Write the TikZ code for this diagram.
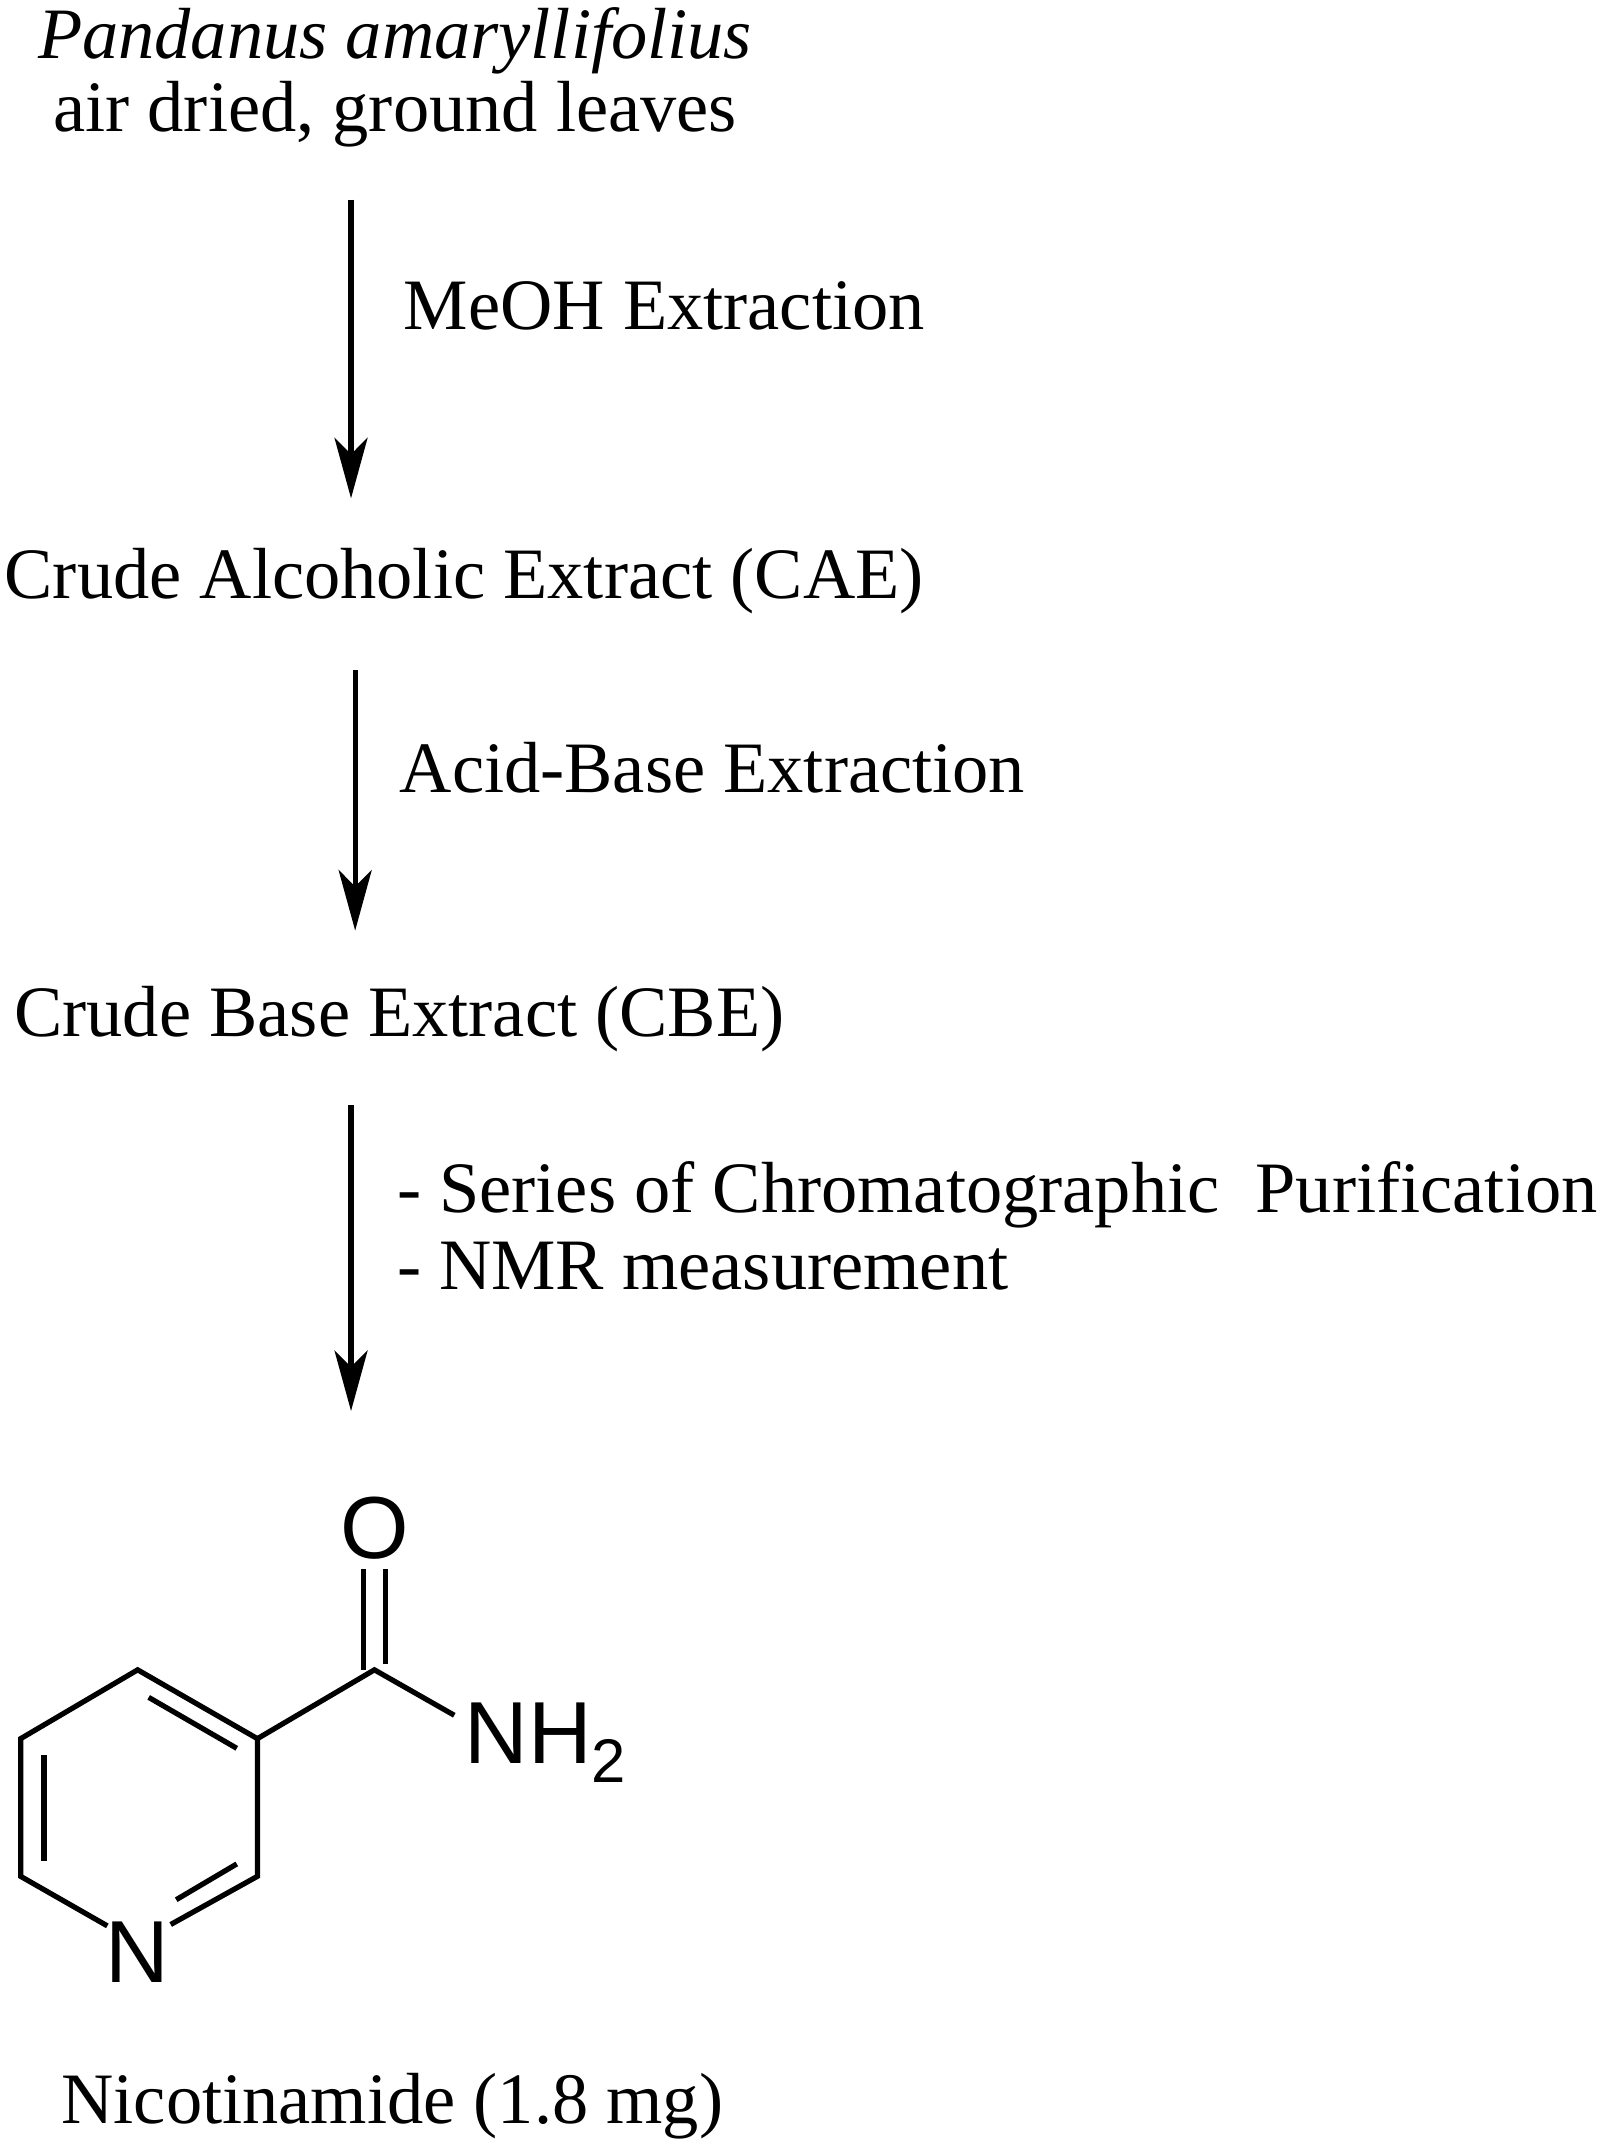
\documentclass[tikz,border=0pt]{standalone}
\usepackage{fontspec}
\setmainfont{Liberation Serif}
\newfontfamily\chemfont{Liberation Sans}
\usetikzlibrary{arrows.meta}
\tikzset{
  flow/.style={line width=1.9pt,-{Stealth[length=22pt,width=12pt,inset=6pt]}},
  txt/.style={font=\fontsize{26.3}{30}\selectfont,inner sep=0pt},
  bond/.style={line width=1.9pt},
  atom/.style={font=\chemfont\fontsize{32}{36}\selectfont,inner sep=1pt}
}
\begin{document}
\begin{tikzpicture}[x=0.5pt,y=-0.5pt]
\useasboundingbox (0,0) rectangle (1173,1564);
\node[txt] (t1) at (287,30) {\itshape Pandanus amaryllifolius};
\node[txt] (t2) at (287,83) {air dried, ground leaves};
\coordinate (a1s) at (255,145); \coordinate (a1e) at (255,362);
\draw[flow] (a1s) -- (a1e);
\node[txt,anchor=west] (l1) at (293,222) {MeOH Extraction};
\node[txt,anchor=west] (cae) at (3,422) {Crude Alcoholic Extract (CAE)};
\coordinate (a2s) at (258,487); \coordinate (a2e) at (258,676);
\draw[flow] (a2s) -- (a2e);
\node[txt,anchor=west] (l2) at (290,558) {Acid-Base Extraction};
\node[txt,anchor=west] (cbe) at (10,740) {Crude Base Extract (CBE)};
\coordinate (a3s) at (255,803); \coordinate (a3e) at (255,1025);
\draw[flow] (a3s) -- (a3e);
\node[txt,anchor=west] (l3) at (288,868) {- Series of Chromatographic\ \ Purification};
\node[txt,anchor=west] (l4) at (288,920) {- NMR measurement};
% molecule
\coordinate (r1) at (100,1213);
\coordinate (r2) at (187,1263);
\coordinate (r3) at (187,1363);
\coordinate (r5) at (15,1363);
\coordinate (r6) at (15,1263);
\coordinate (cc) at (272,1213);
\draw[bond] (r2) -- (r1) -- (r6) -- (r5) -- (78,1399);
\draw[bond] (r2) -- (r3) -- (124,1398);
\draw[bond] (32,1275) -- (32,1352);
\draw[bond] (108,1233) -- (172,1270);
\draw[bond] (172,1354) -- (128,1380);
\draw[bond] (r2) -- (cc) -- (330,1246);
\draw[bond] (264,1213) -- (264,1140);
\draw[bond] (280,1209) -- (280,1140);
\node[atom] (O) at (272,1110) {O};
\node[atom,anchor=west] (NH) at (335,1266) {NH\textsubscript{2}};
\node[atom] (N) at (100,1418) {N};
\node[txt] (name) at (285,1530) {Nicotinamide (1.8 mg)};
\end{tikzpicture}
\end{document}
